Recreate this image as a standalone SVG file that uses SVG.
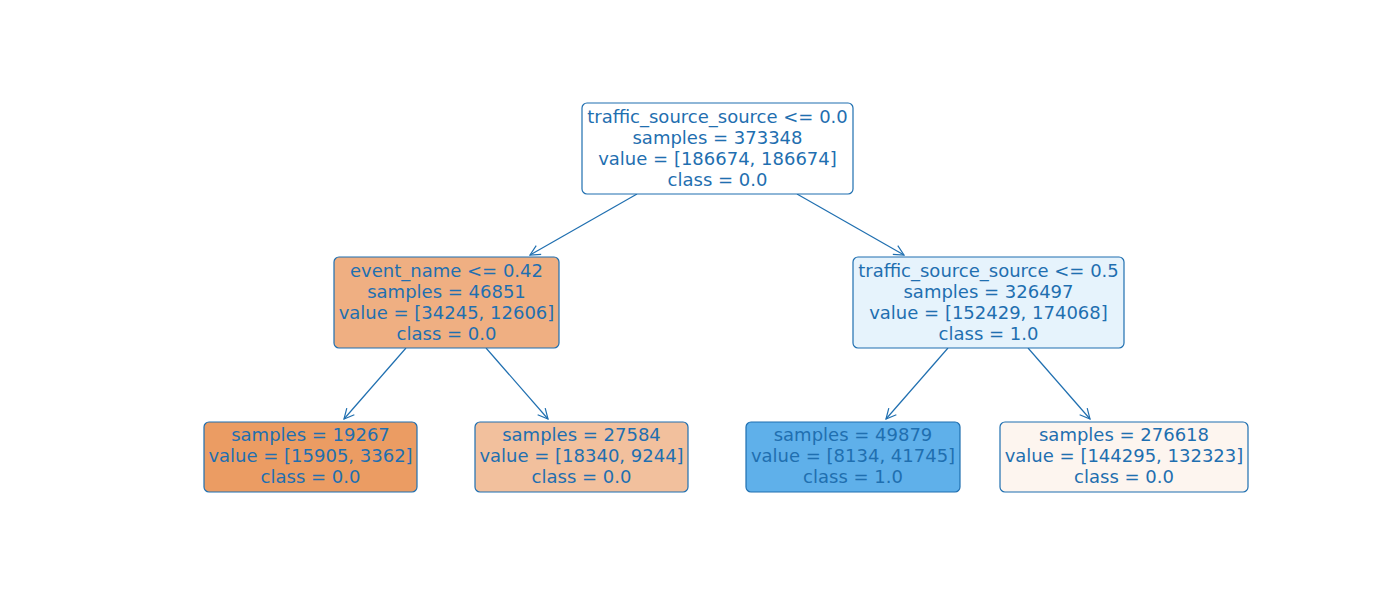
<svg xmlns="http://www.w3.org/2000/svg" width="1400" height="600" viewBox="0 0 1400 600">
<style>
.box{stroke:#1f6fb0;stroke-width:1.2}
.t{font-family:"DejaVu Sans",sans-serif;font-size:18px;fill:#1f6fb0;text-anchor:middle}
.e{stroke:#1f6fb0;stroke-width:1.2;fill:none}
</style>
<defs>
<marker id="ah" viewBox="0 0 12 12" refX="11" refY="6" markerWidth="12" markerHeight="12" markerUnits="userSpaceOnUse" orient="auto">
<path d="M1,1 L11,6 L1,11" fill="none" stroke="#1f6fb0" stroke-width="1.2"/>
</marker>
</defs>
<rect width="1400" height="600" fill="#ffffff"/>
<g id="edges">
<line class="e" x1="637" y1="194" x2="530" y2="255" marker-end="url(#ah)"/>
<line class="e" x1="797" y1="194" x2="904" y2="255" marker-end="url(#ah)"/>
<line class="e" x1="406" y1="348" x2="344" y2="419" marker-end="url(#ah)"/>
<line class="e" x1="486" y1="348" x2="548" y2="419" marker-end="url(#ah)"/>
<line class="e" x1="948" y1="348" x2="886" y2="419" marker-end="url(#ah)"/>
<line class="e" x1="1028" y1="348" x2="1090" y2="419" marker-end="url(#ah)"/>
</g>
<g id="n0">
<rect class="box" x="582" y="103" width="271" height="91" rx="5" fill="#ffffff"/>
<text class="t" x="717.5" y="122.5">traffic_source_source &lt;= 0.0</text>
<text class="t" x="717.5" y="143.5">samples = 373348</text>
<text class="t" x="717.5" y="164.5">value = [186674, 186674]</text>
<text class="t" x="717.5" y="185.5">class = 0.0</text>
</g>
<g id="n1">
<rect class="box" x="334" y="257" width="225" height="91" rx="5" fill="#efaf82"/>
<text class="t" x="446.5" y="276.5">event_name &lt;= 0.42</text>
<text class="t" x="446.5" y="297.5">samples = 46851</text>
<text class="t" x="446.5" y="318.5">value = [34245, 12606]</text>
<text class="t" x="446.5" y="339.5">class = 0.0</text>
</g>
<g id="n4">
<rect class="box" x="853" y="257" width="271" height="91" rx="5" fill="#e6f3fc"/>
<text class="t" x="988.5" y="276.5">traffic_source_source &lt;= 0.5</text>
<text class="t" x="988.5" y="297.5">samples = 326497</text>
<text class="t" x="988.5" y="318.5">value = [152429, 174068]</text>
<text class="t" x="988.5" y="339.5">class = 1.0</text>
</g>
<g id="n2">
<rect class="box" x="204" y="422" width="213" height="70" rx="5" fill="#eb9c63"/>
<text class="t" x="310.5" y="440.5">samples = 19267</text>
<text class="t" x="310.5" y="461.5">value = [15905, 3362]</text>
<text class="t" x="310.5" y="482.5">class = 0.0</text>
</g>
<g id="n3">
<rect class="box" x="475" y="422" width="213" height="70" rx="5" fill="#f2c09d"/>
<text class="t" x="581.5" y="440.5">samples = 27584</text>
<text class="t" x="581.5" y="461.5">value = [18340, 9244]</text>
<text class="t" x="581.5" y="482.5">class = 0.0</text>
</g>
<g id="n5">
<rect class="box" x="746" y="422" width="214" height="70" rx="5" fill="#5fb0ea"/>
<text class="t" x="853" y="440.5">samples = 49879</text>
<text class="t" x="853" y="461.5">value = [8134, 41745]</text>
<text class="t" x="853" y="482.5">class = 1.0</text>
</g>
<g id="n6">
<rect class="box" x="1000" y="422" width="248" height="70" rx="5" fill="#fdf5ef"/>
<text class="t" x="1124" y="440.5">samples = 276618</text>
<text class="t" x="1124" y="461.5">value = [144295, 132323]</text>
<text class="t" x="1124" y="482.5">class = 0.0</text>
</g>
</svg>
